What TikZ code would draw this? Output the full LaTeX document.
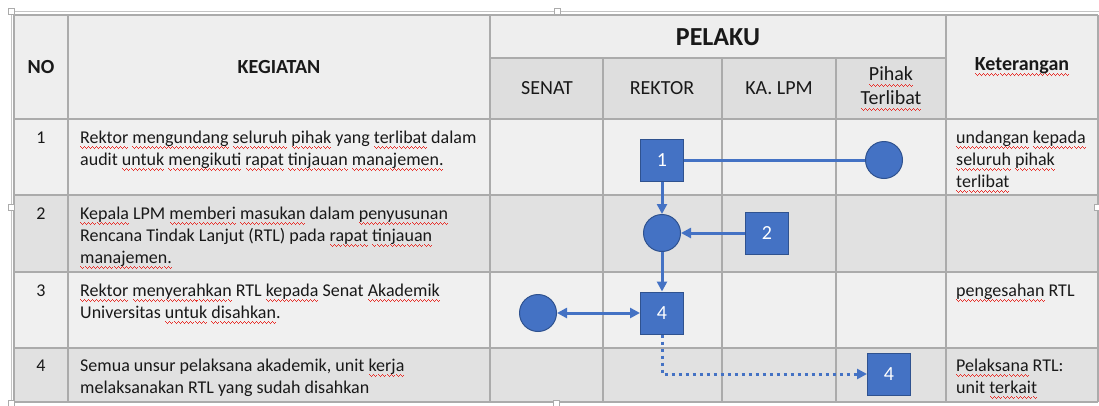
\documentclass[tikz,border=0pt]{standalone}
\usepackage{fontspec}
\setmainfont{Carlito}
\usetikzlibrary{arrows.meta}
\definecolor{flowblue}{HTML}{4472C4}
\definecolor{flowedge}{HTML}{2F528F}
\definecolor{gridgray}{HTML}{ABABAB}
\definecolor{headfill}{HTML}{EEEEEE}
\definecolor{subfill}{HTML}{DEDEDE}
\definecolor{lightrow}{HTML}{F0F0F0}
\definecolor{darkrow}{HTML}{E1E1E1}
\definecolor{spellred}{HTML}{E8302A}
\newbox\sqbox
\newcommand{\sqwave}{\hbox{\vrule width 1pt height -3pt depth 4pt\vrule width 1pt height -4pt depth 5pt\vrule width 1pt height -5pt depth 6pt\vrule width 1pt height -4pt depth 5pt}}
\newcommand{\sq}[1]{\setbox\sqbox\hbox{#1}\rlap{\color{spellred}\hbox to\wd\sqbox{\xleaders\sqwave\hfil}}\box\sqbox}

\begin{document}
\begin{tikzpicture}[x=1pt, y=-1pt,
    grid/.style={draw=gridgray, line width=1.3pt},
    handle/.style={draw=gridgray, fill=white, line width=0.6pt},
    body/.style={font=\fontsize{18}{22}\selectfont, align=left, inner sep=0pt, anchor=base west, text=black!90},
    num/.style={font=\fontsize{18}{22}\selectfont, inner sep=0pt, anchor=base, text=black!90},
    headbold/.style={font=\bfseries\fontsize{20}{24}\selectfont, inner sep=0pt, text=black!90},
    subhead/.style={font=\fontsize{20}{24}\selectfont, inner sep=0pt, text=black!90},
    actbox/.style={draw=flowedge, line width=1pt, fill=flowblue, minimum width=43pt, minimum height=42pt, inner sep=0pt, text=white, font=\fontsize{20}{24}\selectfont},
    actcirc/.style={circle, draw=flowedge, line width=1pt, fill=flowblue, minimum size=37pt, inner sep=0pt},
    link/.style={draw=flowblue, line width=3pt},
    flow/.style={link, -{Triangle[length=10pt,width=10pt]}},
    dotflow/.style={flow, dash pattern=on 3.5pt off 3.5pt}]

    \useasboundingbox[fill=white] (0,0) rectangle (1099,405);

    \draw[gridgray!70, line width=0.8pt] (11.5,405) -- (11.5,11.5) -- (1099,11.5);

    \fill[headfill] (14,15) rectangle (1098,119);
    \fill[subfill] (490,58) rectangle (946,119);
    \fill[lightrow] (14,119) rectangle (1098,195);
    \fill[darkrow] (14,195) rectangle (1098,272);
    \fill[lightrow] (14,272) rectangle (1098,348);
    \fill[darkrow] (14,348) rectangle (1098,402);

    \foreach \y in {15,119,195,272,348,402}
        \draw[grid] (14,\y) -- (1098,\y);
    \draw[grid] (490,58) -- (946,58);
    \foreach \x in {14,68,490,946,1098}
        \draw[grid] (\x,15) -- (\x,402);
    \foreach \x in {603,722,836}
        \draw[grid] (\x,58) -- (\x,402);

    \foreach \hx/\hy in {11.5/11.5, 557/11.5, 11.5/207, 11.5/403, 556/403, 1097/207}
        \draw[handle] (\hx-3,\hy-3) rectangle (\hx+3,\hy+3);

    \node[headbold] (hno) at (41,67) {NO};
    \node[headbold] (hkeg) at (279,67) {KEGIATAN};
    \node[headbold, font=\bfseries\fontsize{26}{30}\selectfont] (hpelaku) at (718,37) {PELAKU};
    \node[headbold] (hket) at (1022,67) {\sq{Keterangan}};
    \node[subhead] (hsenat) at (547,88) {SENAT};
    \node[subhead] (hrektor) at (662,88) {REKTOR};
    \node[subhead] (hlpm) at (779,88) {KA. LPM};
    \node[subhead, align=center] (hpihak) at (891,89) {\sq{Pihak}\\\sq{Terlibat}};

    \node[num] (no1) at (41,143) {1};
    \node[num] (no2) at (41,219) {2};
    \node[num] (no3) at (41,296) {3};
    \node[num] (no4) at (41,371) {4};

    % base anchor sits on the last line
    \node[body] (keg1) at (80,165) {\sq{Rektor} \sq{mengundang} \sq{seluruh} \sq{pihak} yang \sq{terlibat} dalam\\audit \sq{untuk} \sq{mengikuti} \sq{rapat} \sq{tinjauan} \sq{manajemen.}};
    \node[body] (keg2) at (80,263) {\sq{Kepala} LPM \sq{memberi} \sq{masukan} dalam \sq{penyusunan}\\Rencana Tindak Lanjut (RTL) pada \sq{rapat} \sq{tinjauan}\\\sq{manajemen.}};
    \node[body] (keg3) at (80,318) {\sq{Rektor} \sq{menyerahkan} RTL \sq{kepada} Senat \sq{Akademik}\\Universitas \sq{untuk} \sq{disahkan}.};
    \node[body] (keg4) at (80,393) {Semua unsur pelaksana akademik, unit \sq{kerja}\\melaksanakan RTL yang sudah disahkan};

    \node[body] (ket1) at (956,187) {\sq{undangan} \sq{kepada}\\\sq{seluruh} \sq{pihak}\\\sq{terlibat}};
    \node[body] (ket3) at (956,296) {\sq{pengesahan} RTL};
    \node[body] (ket4) at (956,393) {\sq{Pelaksana} RTL:\\unit \sq{terkait}};

    \node[actbox] (rektor1) at (662,160) {1};
    \node[actcirc] (pihak1) at (884,160) {};
    \node[actcirc] (rektor2) at (662,233) {};
    \node[actbox] (lpm2) at (767,233) {2};
    \node[actcirc] (senat3) at (538,313) {};
    \node[actbox] (rektor3) at (662,313) {4};
    \node[actbox] (pihak4) at (889,374) {4};

    \draw[link] (rektor1) -- (pihak1);
    \draw[flow] (rektor1) -- (rektor2);
    \draw[flow] (lpm2) -- (rektor2);
    \draw[flow] (rektor2) -- (rektor3);
    \draw[flow, {Triangle[length=10pt,width=10pt]}-{Triangle[length=10pt,width=10pt]}] (senat3) -- (rektor3);
    \draw[dotflow] (rektor3) |- (pihak4);

\end{tikzpicture}
\end{document}
